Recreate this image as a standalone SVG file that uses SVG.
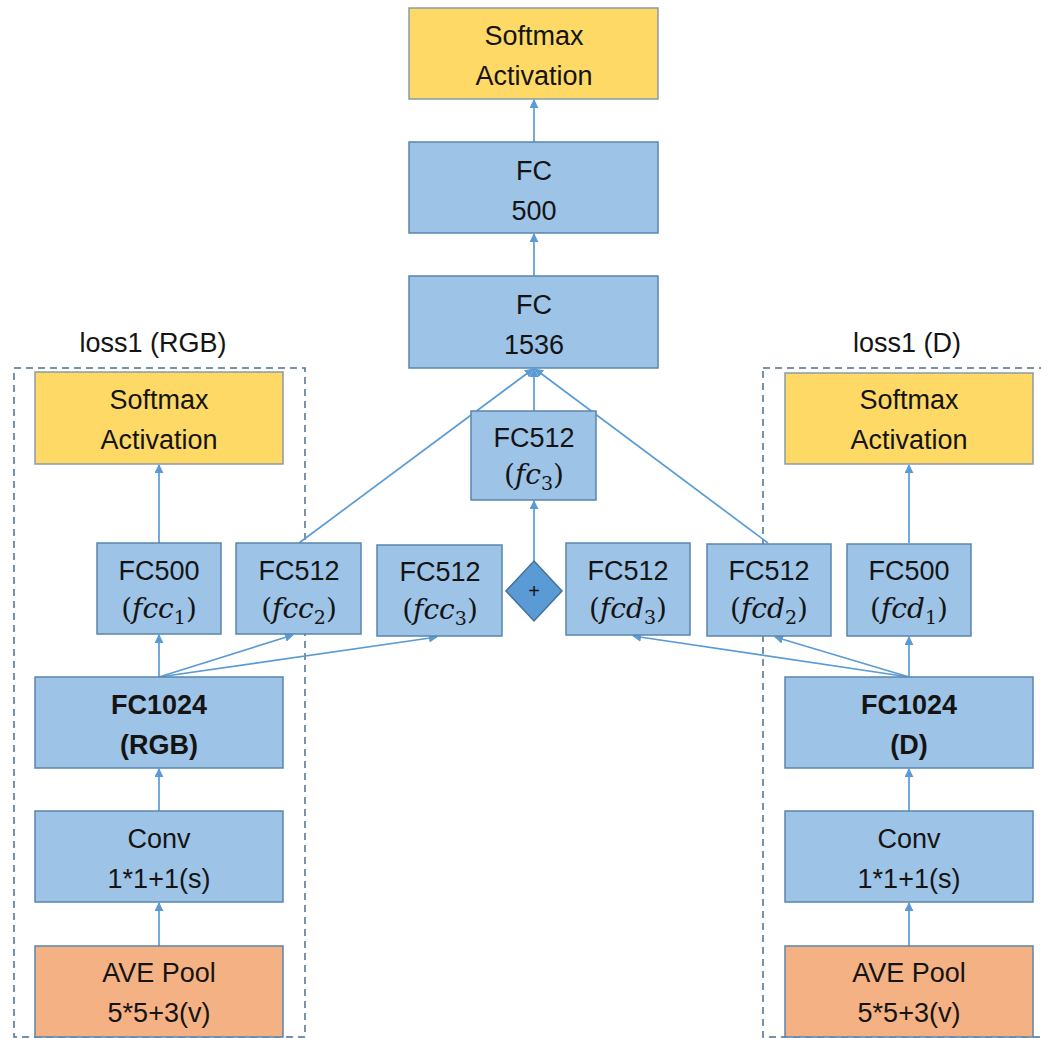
<svg xmlns="http://www.w3.org/2000/svg" width="1041" height="1038" viewBox="0 0 1041 1038">
  <defs>
    <style>
      .blue { fill: #9dc3e6; stroke: #5a86ad; stroke-width: 1.5; }
      .yellow { fill: #ffd966; stroke: #8a9aa8; stroke-width: 1.5; }
      .orange { fill: #f4b183; stroke: #5a86ad; stroke-width: 1.5; }
      .lbl { font-family: "Liberation Sans", Arial, sans-serif; font-size: 27px; fill: #141414; text-anchor: middle; }
      .bold { font-weight: bold; }
      .math { font-family: "DejaVu Serif", "Liberation Serif", serif; font-size: 28px; fill: #141414; text-anchor: middle; }
      .it { font-style: italic; }
      .edge { stroke: #5b9bd5; stroke-width: 1.7; fill: none; marker-end: url(#arrow); }
      .group { fill: none; stroke: #4f6f8c; stroke-width: 1.5; stroke-dasharray: 7 5; }
    </style>
    <marker id="arrow" viewBox="0 0 10 10" refX="9" refY="5" markerWidth="9" markerHeight="9" orient="auto" markerUnits="userSpaceOnUse">
      <path d="M0,0 L10,5 L0,10 z" fill="#5b9bd5"/>
    </marker>
  </defs>

  <rect width="1041" height="1038" fill="#ffffff"/>

  <!-- loss groups -->
  <g id="loss-rgb">
    <rect class="group" x="14" y="368" width="291" height="669"/>
    <text class="lbl" x="153" y="352">loss1 (RGB)</text>
  </g>
  <g id="loss-d">
    <rect class="group" x="763" y="368" width="290" height="669"/>
    <text class="lbl" x="907" y="352">loss1 (D)</text>
  </g>

  <!-- connectors -->
  <g id="connectors">
    <line class="edge" x1="534" y1="142" x2="534" y2="100"/>
    <line class="edge" x1="534" y1="276" x2="534" y2="234"/>
    <line class="edge" x1="534" y1="411" x2="534" y2="369"/>
    <line class="edge" x1="534" y1="561" x2="534" y2="501"/>
    <line class="edge" x1="299" y1="543" x2="533" y2="369"/>
    <line class="edge" x1="768" y1="543" x2="535" y2="369"/>
    <!-- RGB branch -->
    <line class="edge" x1="159" y1="543" x2="159" y2="465"/>
    <line class="edge" x1="159" y1="677" x2="159" y2="635"/>
    <line class="edge" x1="159" y1="677" x2="293" y2="635"/>
    <line class="edge" x1="159" y1="677" x2="437" y2="637"/>
    <line class="edge" x1="159" y1="811" x2="159" y2="769"/>
    <line class="edge" x1="159" y1="946" x2="159" y2="903"/>
    <!-- D branch -->
    <line class="edge" x1="909" y1="543" x2="909" y2="465"/>
    <line class="edge" x1="909" y1="677" x2="909" y2="637"/>
    <line class="edge" x1="909" y1="677" x2="775" y2="637"/>
    <line class="edge" x1="909" y1="677" x2="633" y2="636"/>
    <line class="edge" x1="909" y1="811" x2="909" y2="769"/>
    <line class="edge" x1="909" y1="946" x2="909" y2="903"/>
  </g>

  <!-- central head -->
  <g id="softmax-top">
    <rect class="yellow" x="409" y="8" width="249" height="91"/>
    <text class="lbl" x="534" y="45">Softmax</text>
    <text class="lbl" x="534" y="85">Activation</text>
  </g>
  <g id="fc-500">
    <rect class="blue" x="409" y="142" width="249" height="91"/>
    <text class="lbl" x="534" y="180">FC</text>
    <text class="lbl" x="534" y="220">500</text>
  </g>
  <g id="fc-1536">
    <rect class="blue" x="409" y="276" width="249" height="92"/>
    <text class="lbl" x="534" y="314">FC</text>
    <text class="lbl" x="534" y="354">1536</text>
  </g>
  <g id="fc3">
    <rect class="blue" x="471" y="411" width="125" height="89"/>
    <text class="lbl" x="534" y="447">FC512</text>
    <text class="math" x="534" y="484">(<tspan class="it">fc</tspan><tspan font-size="19" dy="6">3</tspan><tspan dy="-6">)</tspan></text>
  </g>
  <g id="sum">
    <polygon points="534,561 562,591 534,621 506,591" fill="#5b9bd5" stroke="#41719c" stroke-width="1.5"/>
    <text x="534" y="598" font-family="Liberation Sans, Arial, sans-serif" font-size="20" text-anchor="middle" fill="#141414">+</text>
  </g>

  <!-- RGB branch -->
  <g id="softmax-rgb">
    <rect class="yellow" x="35" y="372" width="248" height="92"/>
    <text class="lbl" x="159" y="409">Softmax</text>
    <text class="lbl" x="159" y="449">Activation</text>
  </g>
  <g id="fcc1">
    <rect class="blue" x="97" y="543" width="124" height="91"/>
    <text class="lbl" x="159" y="580">FC500</text>
    <text class="math" x="159" y="618">(<tspan class="it">fcc</tspan><tspan font-size="19" dy="6">1</tspan><tspan dy="-6">)</tspan></text>
  </g>
  <g id="fcc2">
    <rect class="blue" x="236" y="543" width="125" height="91"/>
    <text class="lbl" x="299" y="580">FC512</text>
    <text class="math" x="299" y="618">(<tspan class="it">fcc</tspan><tspan font-size="19" dy="6">2</tspan><tspan dy="-6">)</tspan></text>
  </g>
  <g id="fcc3">
    <rect class="blue" x="377" y="545" width="125" height="91"/>
    <text class="lbl" x="440" y="581">FC512</text>
    <text class="math" x="440" y="619">(<tspan class="it">fcc</tspan><tspan font-size="19" dy="6">3</tspan><tspan dy="-6">)</tspan></text>
  </g>
  <g id="fc1024-rgb">
    <rect class="blue" x="35" y="677" width="248" height="91"/>
    <text class="lbl bold" x="159" y="714">FC1024</text>
    <text class="lbl bold" x="159" y="754">(RGB)</text>
  </g>
  <g id="conv-rgb">
    <rect class="blue" x="35" y="811" width="248" height="91"/>
    <text class="lbl" x="159" y="848">Conv</text>
    <text class="lbl" x="159" y="888">1*1+1(s)</text>
  </g>
  <g id="pool-rgb">
    <rect class="orange" x="35" y="946" width="248" height="91"/>
    <text class="lbl" x="159" y="982">AVE Pool</text>
    <text class="lbl" x="159" y="1022">5*5+3(v)</text>
  </g>

  <!-- D branch -->
  <g id="softmax-d">
    <rect class="yellow" x="785" y="373" width="248" height="91"/>
    <text class="lbl" x="909" y="409">Softmax</text>
    <text class="lbl" x="909" y="449">Activation</text>
  </g>
  <g id="fcd3">
    <rect class="blue" x="566" y="543" width="124" height="92"/>
    <text class="lbl" x="628" y="580">FC512</text>
    <text class="math" x="628" y="618">(<tspan class="it">fcd</tspan><tspan font-size="19" dy="6">3</tspan><tspan dy="-6">)</tspan></text>
  </g>
  <g id="fcd2">
    <rect class="blue" x="707" y="544" width="124" height="92"/>
    <text class="lbl" x="769" y="580">FC512</text>
    <text class="math" x="769" y="618">(<tspan class="it">fcd</tspan><tspan font-size="19" dy="6">2</tspan><tspan dy="-6">)</tspan></text>
  </g>
  <g id="fcd1">
    <rect class="blue" x="847" y="544" width="124" height="92"/>
    <text class="lbl" x="909" y="580">FC500</text>
    <text class="math" x="909" y="618">(<tspan class="it">fcd</tspan><tspan font-size="19" dy="6">1</tspan><tspan dy="-6">)</tspan></text>
  </g>
  <g id="fc1024-d">
    <rect class="blue" x="785" y="677" width="248" height="91"/>
    <text class="lbl bold" x="909" y="714">FC1024</text>
    <text class="lbl bold" x="909" y="754">(D)</text>
  </g>
  <g id="conv-d">
    <rect class="blue" x="785" y="811" width="248" height="91"/>
    <text class="lbl" x="909" y="848">Conv</text>
    <text class="lbl" x="909" y="888">1*1+1(s)</text>
  </g>
  <g id="pool-d">
    <rect class="orange" x="785" y="946" width="248" height="91"/>
    <text class="lbl" x="909" y="982">AVE Pool</text>
    <text class="lbl" x="909" y="1022">5*5+3(v)</text>
  </g>
</svg>
